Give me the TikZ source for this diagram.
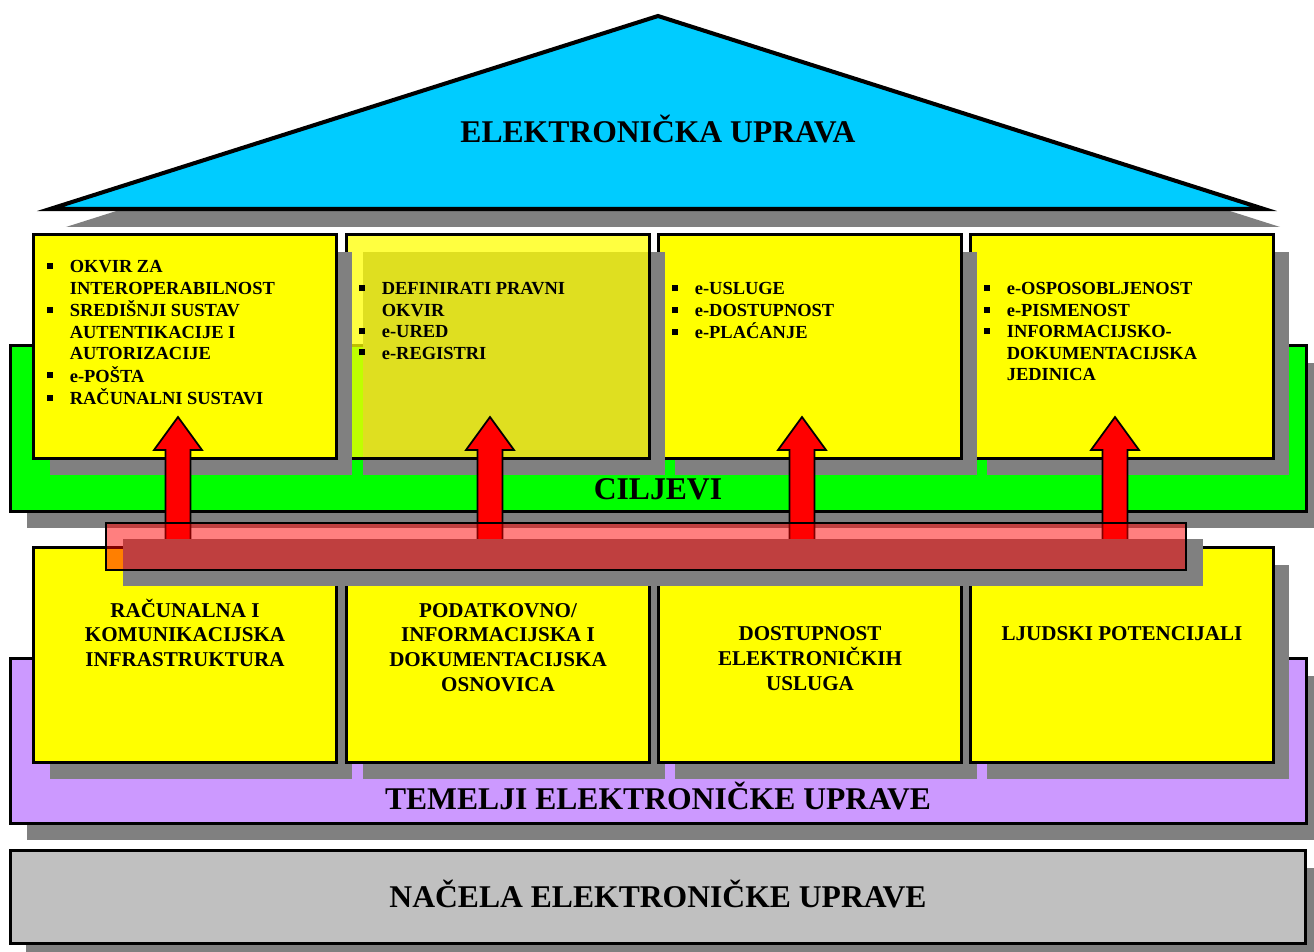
\documentclass[tikz,border=0pt]{standalone}
\usepackage{fontspec}
\setmainfont{Liberation Serif}
\usetikzlibrary{shadows}
\definecolor{shadowgrey}{HTML}{808080}
\definecolor{roofblue}{HTML}{00CCFF}
\definecolor{goalgreen}{HTML}{00FF00}
\definecolor{goalyellow}{HTML}{FFFF00}
\definecolor{baseviolet}{HTML}{CC99FF}
\definecolor{floorgrey}{HTML}{C0C0C0}
\definecolor{arrowred}{HTML}{FF0000}
\newcommand{\sqbul}{\rule[2.2pt]{3.4pt}{3.4pt}}
\tikzset{
  greyshadow/.style={drop shadow={shadow xshift=0.32cm, shadow yshift=-0.34cm, fill=shadowgrey, opacity=1}},
  layer/.style={draw=black, line width=1.7pt, inner sep=0pt, minimum width=25.92cm, greyshadow},
  goalbox/.style={draw=black, line width=1.7pt, fill=goalyellow, inner sep=0pt, minimum width=6.06cm, minimum height=4.48cm, greyshadow},
  basebox/.style={goalbox, minimum height=4.3cm},
  roof/.style={fill=roofblue, draw=black, line width=2.3pt, drop shadow={shadow xshift=0.32cm, shadow yshift=-0.36cm, fill=shadowgrey, opacity=1}},
  bigtitle/.style={font=\fontsize{18}{21.6}\selectfont\bfseries, inner sep=0pt, anchor=base},
  goallist/.style={font=\fontsize{10.5}{12.2}\selectfont\bfseries, inner sep=0pt, anchor=base west},
  basetext/.style={font=\fontsize{12}{14.2}\selectfont\bfseries, inner sep=0pt, anchor=base},
  goalarrow/.style={fill=arrowred, draw=black, line width=1pt},
  linkbar/.style={draw=black, line width=1.1pt, fill=arrowred, fill opacity=0.5, inner sep=0pt, minimum width=21.6cm, minimum height=0.94cm, drop shadow={shadow xshift=0.34cm, shadow yshift=-0.32cm, fill=shadowgrey, opacity=1}}
}
\begin{document}
\begin{tikzpicture}[x=0.02cm, y=-0.02cm]
    \fill[white] (0,0) rectangle (1314,952);
    \useasboundingbox (0,0) rectangle (1314,952);
    \clip (0,0) rectangle (1314,952);

    \node[layer, fill=floorgrey, minimum height=1.86cm] (principles) at (658,897) {};
    \node[bigtitle] (principleslabel) at (658,907) {NAČELA ELEKTRONIČKE UPRAVE};

    \node[layer, fill=baseviolet, minimum height=3.3cm] (foundations) at (658.5,741) {};
    \node[bigtitle] (foundationslabel) at (658,809) {TEMELJI ELEKTRONIČKE UPRAVE};

    \node[basebox] (base1) at (185,655) {};
    \node[basebox] (base2) at (498,655) {};
    \node[basebox] (base3) at (810,655) {};
    \node[basebox] (base4) at (1122,655) {};
    \node[basetext] (base1text) at (185,617) {\begin{tabular}[t]{@{}c@{}}RAČUNALNA I\\KOMUNIKACIJSKA\\INFRASTRUKTURA\end{tabular}};
    \node[basetext] (base2text) at (498,617) {\begin{tabular}[t]{@{}c@{}}PODATKOVNO/\\INFORMACIJSKA I\\DOKUMENTACIJSKA\\OSNOVICA\end{tabular}};
    \node[basetext] (base3text) at (810,640) {\begin{tabular}[t]{@{}c@{}}DOSTUPNOST\\ELEKTRONIČKIH\\USLUGA\end{tabular}};
    \node[basetext] (base4text) at (1122,640) {LJUDSKI POTENCIJALI};

    \node[layer, fill=goalgreen, minimum height=3.32cm] (goals) at (658.5,428.5) {};
    \node[bigtitle] (goalslabel) at (658,499) {CILJEVI};

    \filldraw[roof] (50,209) -- (658,16) -- (1264,209) -- cycle;
    \node[bigtitle] (rooflabel) at (658,143) {ELEKTRONIČKA UPRAVA};

    \node[goalbox] (goal4) at (1122,346.5) {};
    \node[goalbox] (goal3) at (810,346.5) {};
    \node[goalbox, fill opacity=0.75] (goal2) at (498,346.5) {};
    \node[goalbox] (goal1) at (185,346.5) {};
    \node[goallist] (goal1text) at (47,273) {\begin{tabular}[t]{@{}p{0.45cm}@{}l@{}}
        \sqbul & OKVIR ZA\\
               & INTEROPERABILNOST\\
        \sqbul & SREDIŠNJI SUSTAV\\
               & AUTENTIKACIJE I\\
               & AUTORIZACIJE\\
        \sqbul & e-POŠTA\\
        \sqbul & RAČUNALNI SUSTAVI
    \end{tabular}};
    \node[goallist] (goal2text) at (359,295) {\begin{tabular}[t]{@{}p{0.45cm}@{}l@{}}
        \sqbul & DEFINIRATI PRAVNI\\
               & OKVIR\\
        \sqbul & e-URED\\
        \sqbul & e-REGISTRI
    \end{tabular}};
    \node[goallist] (goal3text) at (672,295) {\begin{tabular}[t]{@{}p{0.45cm}@{}l@{}}
        \sqbul & e-USLUGE\\
        \sqbul & e-DOSTUPNOST\\
        \sqbul & e-PLAĆANJE
    \end{tabular}};
    \node[goallist] (goal4text) at (984,295) {\begin{tabular}[t]{@{}p{0.45cm}@{}l@{}}
        \sqbul & e-OSPOSOBLJENOST\\
        \sqbul & e-PISMENOST\\
        \sqbul & INFORMACIJSKO-\\
               & DOKUMENTACIJSKA\\
               & JEDINICA
    \end{tabular}};

    \foreach \n/\ax in {1/178, 2/490, 3/802, 4/1115} {
        \coordinate (tip\n) at (\ax,417);
        \filldraw[goalarrow] (tip\n) -- ++(24,33) -- ++(-11.5,0) -- ++(0,110) -- ++(-25,0) -- ++(0,-110) -- ++(-11.5,0) -- cycle;
    }

    \node[linkbar] (link) at (646,546.5) {};
\end{tikzpicture}
\end{document}
